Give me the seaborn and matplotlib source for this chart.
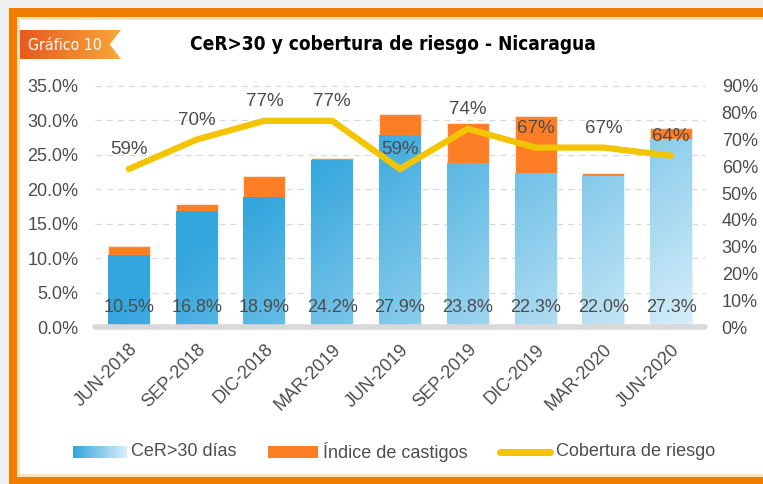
import numpy as np
import pandas as pd
import matplotlib
matplotlib.use('Agg')
import matplotlib.pyplot as plt
import matplotlib.patches as mpatches
import matplotlib.font_manager as fm
from matplotlib.colors import LinearSegmentedColormap
from matplotlib.lines import Line2D
from matplotlib.path import Path
import seaborn as sns

# ── data ──────────────────────────────────────────────────────────────────────
periods = ['JUN-2018', 'SEP-2018', 'DIC-2018', 'MAR-2019', 'JUN-2019',
           'SEP-2019', 'DIC-2019', 'MAR-2020', 'JUN-2020']
cer30 = [10.5, 16.8, 18.9, 24.2, 27.9, 23.8, 22.3, 22.0, 27.3]
castigos = [1.2, 1.1, 3.1, 0.3, 3.1, 5.8, 8.4, 0.3, 1.6]
cobertura = [59, 70, 77, 77, 59, 74, 67, 67, 64]

df = pd.DataFrame({'periodo': periods, 'cer': cer30, 'cast': castigos, 'cob': cobertura})
df['total'] = df['cer'] + df['cast']
df['x'] = np.arange(len(df))

sns.set_theme(style='white')
plt.rcParams['font.family'] = ['Liberation Sans', 'DejaVu Sans']

BLUE_DARK = '#33a6dd'
BLUE_LIGHT = '#d9eff9'
ORANGE = '#fd7e24'
YELLOW = '#f2c500'
TXT = '#4d4d4d'

# condensed font for the header, if one is around
def find_font(keys, fallback):
    for f in fm.fontManager.ttflist:
        if any(k in f.fname for k in keys):
            return fm.FontProperties(fname=f.fname)
    return fm.FontProperties(family=fallback)

title_fp = find_font(['LiberationSansNarrow-Bold.', 'DejaVuSansCondensed-Bold.'], 'Liberation Sans')
if 'Bold' not in (title_fp.get_file() or ''):
    title_fp.set_weight('bold')
badge_fp = find_font(['LiberationSansNarrow-Regular.', 'DejaVuSansCondensed.'], 'Liberation Sans')

W, H = 763, 484
fig = plt.figure(figsize=(W / 100, H / 100), dpi=100)
fig.patch.set_facecolor('white')

# ── frame ─────────────────────────────────────────────────────────────────────
def px_rect(x0, y0, x1, y1, color, z=0):
    fig.patches.append(mpatches.Rectangle((x0 / W, 1 - y1 / H), (x1 - x0) / W, (y1 - y0) / H,
                                          transform=fig.transFigure, color=color, zorder=z, lw=0))

px_rect(0, 0, W, 8, '#efefef')
px_rect(0, 0, 9, H, '#efefef')
px_rect(9, 8, W, 17, '#f07d00')
px_rect(9, 8, 17, H, '#f07d00')
px_rect(17, 17, W, 20, '#fde2b8')
px_rect(17, 17, 20, 474, '#fde2b8')
px_rect(17, 474, W, 477, '#fde2b8')
px_rect(9, 477, W, H, '#f07d00')

# badge "Gráfico 10"
badge_cmap = LinearSegmentedColormap.from_list('badge', ['#e8501e', '#f6a83a'])
bax = fig.add_axes([9 / W, 1 - 59 / H, (121 - 9) / W, (59 - 30) / H])
bim = bax.imshow(np.linspace(0, 1, 256).reshape(1, -1), aspect='auto', cmap=badge_cmap,
                 extent=[0, 1, 0, 1])
badge = mpatches.Polygon([(0, 0), (1, 0), (0.9, 0.5), (1, 1), (0, 1)], closed=True,
                         transform=bax.transData, facecolor='none', edgecolor='none')
bax.add_patch(badge)
bim.set_clip_path(badge)
bax.set_xlim(0, 1)
bax.set_ylim(0, 1)
bax.axis('off')

renderer = fig.canvas.get_renderer()

def fit_text(x, y, s, fp, size, width_px, **kw):
    t = fig.text(x, y, s, fontproperties=fp, fontsize=size, **kw)
    w = t.get_window_extent(renderer).width
    t.set_fontsize(size * width_px / w)
    return t

fit_text(65 / W, 1 - 45 / H, 'Gráfico 10', badge_fp, 12, 74, color='white',
         ha='center', va='center')
fit_text(393 / W, 1 - 44 / H, 'CeR>30 y cobertura de riesgo - Nicaragua', title_fp, 14, 408,
         color='black', ha='center', va='center')

# ── main axes ─────────────────────────────────────────────────────────────────
ax = fig.add_axes([95 / W, 1 - 327 / H, (705 - 95) / W, (327 - 86) / H])
ax.set_facecolor('none')

sns.barplot(data=df, x='periodo', y='total', color=ORANGE, saturation=1, width=0.62,
            edgecolor='#fde2cf', linewidth=0.8, ax=ax, zorder=2)
sns.barplot(data=df, x='periodo', y='cer', color=BLUE_DARK, saturation=1, width=0.62,
            edgecolor='#e3f3fb', linewidth=0.8, ax=ax, zorder=3)

blue_bars = ax.patches[len(df):]
ax.set_xlim(-0.5, len(df) - 0.5)
ax.set_ylim(0, 35)

# diagonal blue gradient clipped to the CeR bars
gx, gy = np.meshgrid(np.linspace(0, 1, 300), np.linspace(1, 0, 200))
grad = np.clip(gx + 0.5 * (1 - gy) - 0.5, 0, 1)
blue_cmap = LinearSegmentedColormap.from_list('blue', [BLUE_DARK, BLUE_LIGHT])
im = ax.imshow(grad, cmap=blue_cmap, vmin=0, vmax=1, aspect='auto',
               extent=[-0.5, len(df) - 0.5, 0, 35], zorder=3.5)
clip = Path.make_compound_path(*[b.get_path().transformed(b.get_patch_transform()) for b in blue_bars])
im.set_clip_path(clip, ax.transData)
ax.set_xlim(-0.5, len(df) - 0.5)
ax.set_ylim(0, 35)

for xi, v in zip(df['x'], df['cer']):
    ax.text(xi, 2.8, f'{v:.1f}%', ha='center', va='center', fontsize=13, color=TXT, zorder=6)

ax.set_yticks(np.arange(0, 36, 5))
ax.set_yticklabels([f'{v:.1f}%' for v in np.arange(0, 36, 5)], fontsize=13, color=TXT)
for yv in np.arange(5, 36, 5):
    ax.axhline(yv, color='#d9d9d9', ls=(0, (5, 4)), lw=0.9, zorder=1, clip_on=False)
ax.axhline(0, color='#d9d9d9', lw=4, zorder=5, clip_on=False)
ax.set_xticks(df['x'])
ax.set_xticklabels(df['periodo'], rotation=45, ha='right', rotation_mode='anchor',
                   fontsize=13, color=TXT)
ax.tick_params(axis='y', length=0, pad=12)
ax.tick_params(axis='x', length=0, pad=10)
ax.set_xlabel('')
ax.set_ylabel('')
for s in ax.spines.values():
    s.set_visible(False)

# ── coverage line ─────────────────────────────────────────────────────────────
ax2 = ax.twinx()
sns.lineplot(data=df, x='x', y='cob', color=YELLOW, lw=4.5, ax=ax2, zorder=7,
             solid_capstyle='round', solid_joinstyle='miter')
ax2.set_ylim(0, 90)
ax2.set_xlim(-0.5, len(df) - 0.5)
ax2.set_yticks(np.arange(0, 91, 10))
ax2.set_yticklabels([f'{v}%' for v in np.arange(0, 91, 10)], fontsize=13, color=TXT)
ax2.tick_params(axis='y', length=0, pad=12)
ax2.set_ylabel('')
ax2.set_xlabel('')
ax2.grid(False)
for s in ax2.spines.values():
    s.set_visible(False)
for xi, v in zip(df['x'], df['cob']):
    ax2.annotate(f'{v}%', (xi, v), xytext=(0, 14), textcoords='offset points',
                 ha='center', va='center', fontsize=13.5, color=TXT, zorder=8)

# ── legend ────────────────────────────────────────────────────────────────────
ly = 452
lax = fig.add_axes([73 / W, 1 - (ly + 6) / H, 54 / W, 12 / H])
lax.imshow(np.linspace(0, 1, 100).reshape(1, -1), cmap=blue_cmap, aspect='auto')
lax.axis('off')
fig.text(131 / W, 1 - ly / H, 'CeR>30 días', fontsize=13, color=TXT, va='center')
px_rect(268, ly - 6, 318, ly + 6, ORANGE, z=3)
fig.text(323 / W, 1 - ly / H, 'Índice de castigos', fontsize=13, color=TXT, va='center')
fig.lines.append(Line2D([500 / W, 550 / W], [1 - ly / H, 1 - ly / H], transform=fig.transFigure,
                        color=YELLOW, lw=5, solid_capstyle='round'))
fig.text(556 / W, 1 - ly / H, 'Cobertura de riesgo', fontsize=13, color=TXT, va='center')

fig.savefig('out.png', dpi=100)
